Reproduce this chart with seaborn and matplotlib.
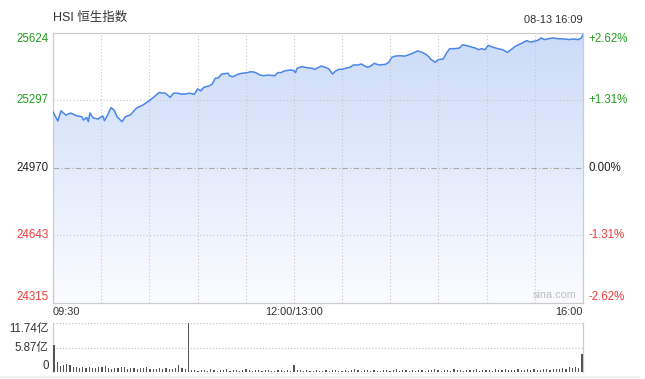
import numpy as np
import matplotlib
matplotlib.use("Agg")
import matplotlib.pyplot as plt
import seaborn as sns
from matplotlib.colors import LinearSegmentedColormap

# ---------------- data ----------------
minutes = [0, 3, 5, 8, 11, 15, 18, 19, 21, 22, 23, 25, 28, 31, 32, 34, 36, 38, 40, 43,
           45, 48, 52, 56, 60, 63, 66, 70, 73, 75, 78, 80, 82, 85, 88, 90, 92, 94, 97, 99,
           101, 103, 105, 109, 110, 112, 115, 118, 121, 123, 125, 127, 129, 131, 134, 138, 140, 142, 144, 148,
           150, 151, 152, 155, 158, 161, 163, 165, 167, 170, 172, 174, 176, 178, 180, 182, 185, 187, 190, 192,
           194, 196, 198, 200, 203, 207, 209, 211, 213, 216, 219, 221, 224, 227, 230, 232, 234, 235, 238, 240,
           243, 245, 247, 250, 253, 255, 258, 261, 263, 265, 267, 269, 271, 274, 277, 280, 283, 286, 288, 291,
           295, 297, 300, 302, 304, 306, 311, 315, 319, 321, 324, 327, 329, 330]
index_vals = [25242, 25197, 25247, 25226, 25236, 25222, 25218, 25202, 25215, 25194, 25236, 25212, 25207, 25222, 25199, 25226, 25262, 25251, 25217, 25194,
              25218, 25226, 25260, 25275, 25296, 25315, 25335, 25332, 25312, 25332, 25332, 25327, 25328, 25332, 25327, 25353, 25343, 25361, 25367, 25375,
              25404, 25407, 25425, 25429, 25416, 25412, 25424, 25429, 25432, 25436, 25435, 25429, 25420, 25417, 25420, 25417, 25432, 25432, 25440, 25445,
              25441, 25432, 25453, 25461, 25456, 25453, 25448, 25456, 25464, 25456, 25448, 25425, 25440, 25448, 25448, 25453, 25458, 25469, 25469, 25474,
              25464, 25458, 25465, 25477, 25469, 25472, 25482, 25506, 25512, 25514, 25512, 25517, 25526, 25537, 25530, 25521, 25509, 25498, 25482, 25495,
              25498, 25527, 25548, 25548, 25551, 25567, 25562, 25555, 25551, 25543, 25548, 25543, 25564, 25555, 25548, 25543, 25530, 25548, 25560, 25571,
              25587, 25580, 25584, 25589, 25600, 25592, 25600, 25596, 25595, 25592, 25595, 25592, 25600, 25616]

price_ticks = [25624, 25297, 24970, 24643, 24315]
price_labels = ["25624", "25297", "24970", "24643", "24315"]
pct_labels = ["+2.62%", "+1.31%", "0.00%", "-1.31%", "-2.62%"]

vol_values = [6.5, 2.4, 1.4, 1.8, 2.0, 1.7, 1.2, 1.3, 1.1, 1.3,
              1.0, 1.2, 1.1, 1.0, 1.3, 1.2, 1.4, 1.0, 0.9, 1.1,
              1.0, 1.3, 1.2, 0.9, 1.1, 1.0, 0.8, 1.0, 1.1, 1.2,
              0.9, 0.8, 0.9, 1.0, 0.8, 1.1, 0.9, 0.8, 1.0, 1.8,
              1.1, 0.9, 11.74,
              0.6, 0.5, 0.4, 0.6, 0.5, 0.4, 0.7, 0.5, 0.4, 0.6,
              0.5, 0.8, 0.4, 0.5, 0.6, 0.4, 0.5, 0.7, 0.5, 0.4,
              0.6, 0.5, 0.4, 0.5, 0.6, 0.4, 0.3, 0.5, 0.6, 0.4,
              0.5, 0.4,
              1.7,
              0.6, 0.5, 0.4, 0.5, 0.3, 0.4, 0.6, 0.4, 0.3, 0.5,
              0.4, 0.6, 0.5, 0.4, 0.3, 0.5, 0.4, 0.6, 0.8, 0.5,
              0.4, 0.5, 0.6, 0.4, 0.5, 0.3, 0.4, 0.6, 0.5, 0.4,
              0.5, 0.7, 0.4, 0.5, 0.6, 0.4, 0.5, 0.3, 0.6, 0.5,
              0.4, 0.6, 0.5, 0.9, 0.5, 0.4, 0.6, 0.5, 0.4, 0.7,
              0.5, 0.6, 0.4, 0.5, 0.6, 0.5, 0.7, 0.4, 0.6, 0.5,
              0.6, 0.4, 0.7, 0.5, 0.6, 0.8, 0.5, 0.6, 0.5, 0.7,
              0.6, 0.5, 0.8, 0.6, 0.7, 0.5, 0.6, 0.8, 0.7, 0.6,
              0.9, 0.7, 0.8,
              1.0, 0.8, 1.2, 1.1, 1.3, 1.0, 4.4]
vol_minutes = list(range(0, 331, 2))
vol_ticks = [11.74, 5.87, 0]
vol_labels = ["11.74亿", "5.87亿", "0"]

title = "HSI 恒生指数"
stamp = "08-13 16:09"
x_labels = ["09:30", "12:00/13:00", "16:00"]

# ---------------- style ----------------
sns.set_theme(style="white")
plt.rcParams["font.family"] = ["Liberation Sans", "Noto Sans CJK SC", "DejaVu Sans"]

W, H = 645, 379
fig = plt.figure(figsize=(W / 100, H / 100), dpi=100)
fig.patch.set_facecolor("white")

def fx(px):
    return px / W

def fy(py):
    return 1 - py / H

GREEN = "#22a022"
RED = "#f03a3a"
DARK = "#333333"
GRID = "#c8c8c8"
LINE = "#4a86e8"

L, R = 53, 583
ax = fig.add_axes([fx(L), fy(303), (R - L) / W, 270 / H])
ax.set_xlim(0, 330)
ax.set_ylim(24315, 25624)

# gradient fill under the line (light blue at top fading to white at bottom)
cmap = LinearSegmentedColormap.from_list("g", ["#cbdbf8", "#fbfcff"])
grad = np.linspace(0, 1, 256).reshape(-1, 1)
img = ax.imshow(grad, cmap=cmap, aspect="auto", extent=[0, 330, 24315, 25624],
                origin="upper", zorder=1, interpolation="bilinear")
poly = ax.fill_between(minutes, index_vals, 24315, facecolor="none", edgecolor="none")
img.set_clip_path(poly.get_paths()[0], ax.transData)

# grid
for m in range(30, 330, 30):
    ax.axvline(m, color=GRID, lw=0.8, ls=(0, (1, 2)), zorder=2)
for v in [25297, 24643]:
    ax.axhline(v, color=GRID, lw=0.8, ls=(0, (1, 2)), zorder=2)
ax.axhline(24970, color="#aaaaaa", lw=0.8, ls=(0, (5, 2, 1, 2)), zorder=2)

sns.lineplot(x=minutes, y=index_vals, ax=ax, color=LINE, lw=1.1, zorder=3)

ax.set_xticks([])
ax.set_yticks([])
ax.set_xlabel("")
ax.set_ylabel("")
for s in ax.spines.values():
    s.set_visible(True)
    s.set_color("#cccccc")
    s.set_linewidth(0.9)

# y labels
cols = [GREEN, GREEN, "#222222", RED, RED]
vas = ["top", "center", "center", "center", "bottom"]
for v, lab, pl, c, va in zip(price_ticks, price_labels, pct_labels, cols, vas):
    ax.text(-0.008, v, lab, transform=ax.get_yaxis_transform(), ha="right", va=va,
            fontsize=8.3, color=c)
    ax.text(1.011, v, pl, transform=ax.get_yaxis_transform(), ha="left", va=va,
            fontsize=8.3, color=c)

ax.text(0.947, 0.012, "sina.com", transform=ax.transAxes, ha="center", va="bottom",
        fontsize=7.8, color="#bdbdbd", zorder=4)

fig.text(fx(53), fy(18), title, ha="left", va="center", fontsize=9, color=DARK)
fig.text(fx(583), fy(20), stamp, ha="right", va="center", fontsize=7.9, color=DARK)
fig.text(fx(53), fy(312), x_labels[0], ha="left", va="center", fontsize=7.9, color=DARK)
fig.text(fx(294), fy(312), x_labels[1], ha="center", va="center", fontsize=7.9, color=DARK)
fig.text(fx(583), fy(312), x_labels[2], ha="right", va="center", fontsize=7.9, color=DARK)

# ---------------- volume ----------------
axv = fig.add_axes([fx(L), fy(372.3), (R - L) / W, 49.3 / H])
axv.set_xlim(-0.6, 330.6)
axv.set_ylim(0, 11.74)
axv.bar(vol_minutes, vol_values, width=0.7, color="#555555", zorder=3, linewidth=0)
for v in [11.74, 5.87]:
    axv.axhline(v, color=GRID, lw=0.9, ls=(0, (1, 1.5)), zorder=2)
axv.set_xticks([])
axv.set_yticks([])
for k, s in axv.spines.items():
    if k in ("left", "right"):
        s.set_visible(True)
        s.set_color("#cccccc")
        s.set_linewidth(0.9)
    else:
        s.set_visible(False)
vvas = ["top", "center", "bottom"]
for v, lab, va in zip(vol_ticks, vol_labels, vvas):
    axv.text(-0.008, v, lab, transform=axv.get_yaxis_transform(), ha="right", va=va,
             fontsize=8.3, color=DARK)

fig.add_artist(plt.Line2D([0, fx(640)], [fy(377), fy(377)], color="#eeeeee", lw=1.2))

fig.savefig("out.png", dpi=100, facecolor="white")
